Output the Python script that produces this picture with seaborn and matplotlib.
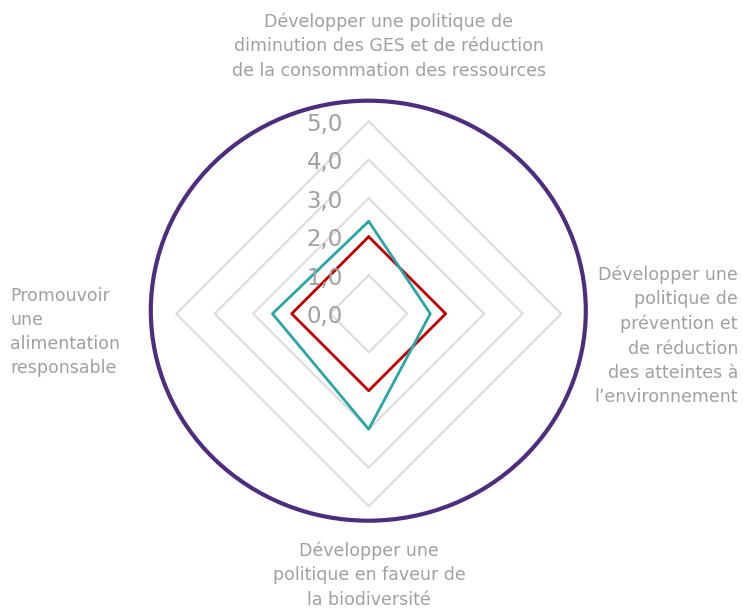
import numpy as np
import pandas as pd
import matplotlib
matplotlib.use("Agg")
import matplotlib.pyplot as plt
from matplotlib.patches import Ellipse
import seaborn as sns

categories = [
    "Développer une politique de\ndiminution des GES et de réduction\nde la consommation des ressources",
    "Développer une\npolitique de\nprévention et\nde réduction\ndes atteintes à\nl\u2019environnement",
    "Développer une\npolitique en faveur de\nla biodiversité",
    "Promouvoir\nune\nalimentation\nresponsable",
]
series_names = ["Série 1", "Série 2"]
serie1 = [2.0, 2.0, 2.0, 2.0]
serie2 = [2.4, 1.6, 3.0, 2.5]
tick_values = [0, 1, 2, 3, 4, 5]
tick_labels = ["0,0", "1,0", "2,0", "3,0", "4,0", "5,0"]

colors = {"Série 1": "#C00000", "Série 2": "#2BA6A6"}
grid_color = "#DCDCDC"
text_color = "#A0A0A0"

sns.set_theme(style="white")
plt.rcParams["font.family"] = ["DejaVu Sans"]

W, H = 743, 612
fig = plt.figure(figsize=(W / 100, H / 100), dpi=100)
cx, cy, R = 368.7, 313.7, 192.5
ax = fig.add_axes([(cx - R) / W, (H - cy - R) / H, 2 * R / W, 2 * R / H], projection="polar")
ax.set_theta_zero_location("N")
ax.set_theta_direction(-1)

n = len(categories)
angles = np.linspace(0, 2 * np.pi, n, endpoint=False)
closed = np.append(angles, angles[0])

# diamond grid
for v in tick_values[1:]:
    ax.plot(closed, [v] * (n + 1), color=grid_color, lw=1.5, zorder=1, clip_on=False)

rows = []
for name, vals in zip(series_names, [serie1, serie2]):
    for a, v in zip(closed, list(vals) + [vals[0]]):
        rows.append({"theta": a, "r": v, "serie": name})
df = pd.DataFrame(rows)
sns.lineplot(data=df, x="theta", y="r", hue="serie", palette=colors, sort=False,
             estimator=None, lw=2.0, ax=ax, legend=False, zorder=3)

ax.set_ylim(0, 5)
ax.set_xticks([])
ax.set_yticks([])
ax.grid(False)
ax.spines["polar"].set_visible(False)
ax.set_xlabel("")
ax.set_ylabel("")
ax.patch.set_alpha(0)

for v, lab in zip(tick_values, tick_labels):
    ax.annotate(lab, xy=(0, v), xytext=(-26, -3), textcoords="offset pixels",
                ha="right", va="center", fontsize=16.5, color=text_color,
                annotation_clip=False)

# outer circle
ell = Ellipse((368.3 / W, 1 - 310.7 / H), 435 / W, 420 / H, transform=fig.transFigure,
              fill=False, edgecolor="#4E2D7F", lw=3.0, zorder=5)
fig.patches.append(ell)

fs = 12.5
ls = 1.45
fig.text(389 / W, 1 - 46 / H, categories[0], ha="center", va="center", fontsize=fs,
         color=text_color, linespacing=ls)
fig.text(738 / W, 1 - 336 / H, categories[1], ha="right", va="center", fontsize=fs,
         color=text_color, linespacing=ls)
fig.text(369 / W, 1 - 575 / H, categories[2], ha="center", va="center", fontsize=fs,
         color=text_color, linespacing=ls)
fig.text(10 / W, 1 - 332 / H, categories[3], ha="left", va="center", fontsize=fs,
         color=text_color, linespacing=ls)

fig.savefig("out.png", dpi=100)
